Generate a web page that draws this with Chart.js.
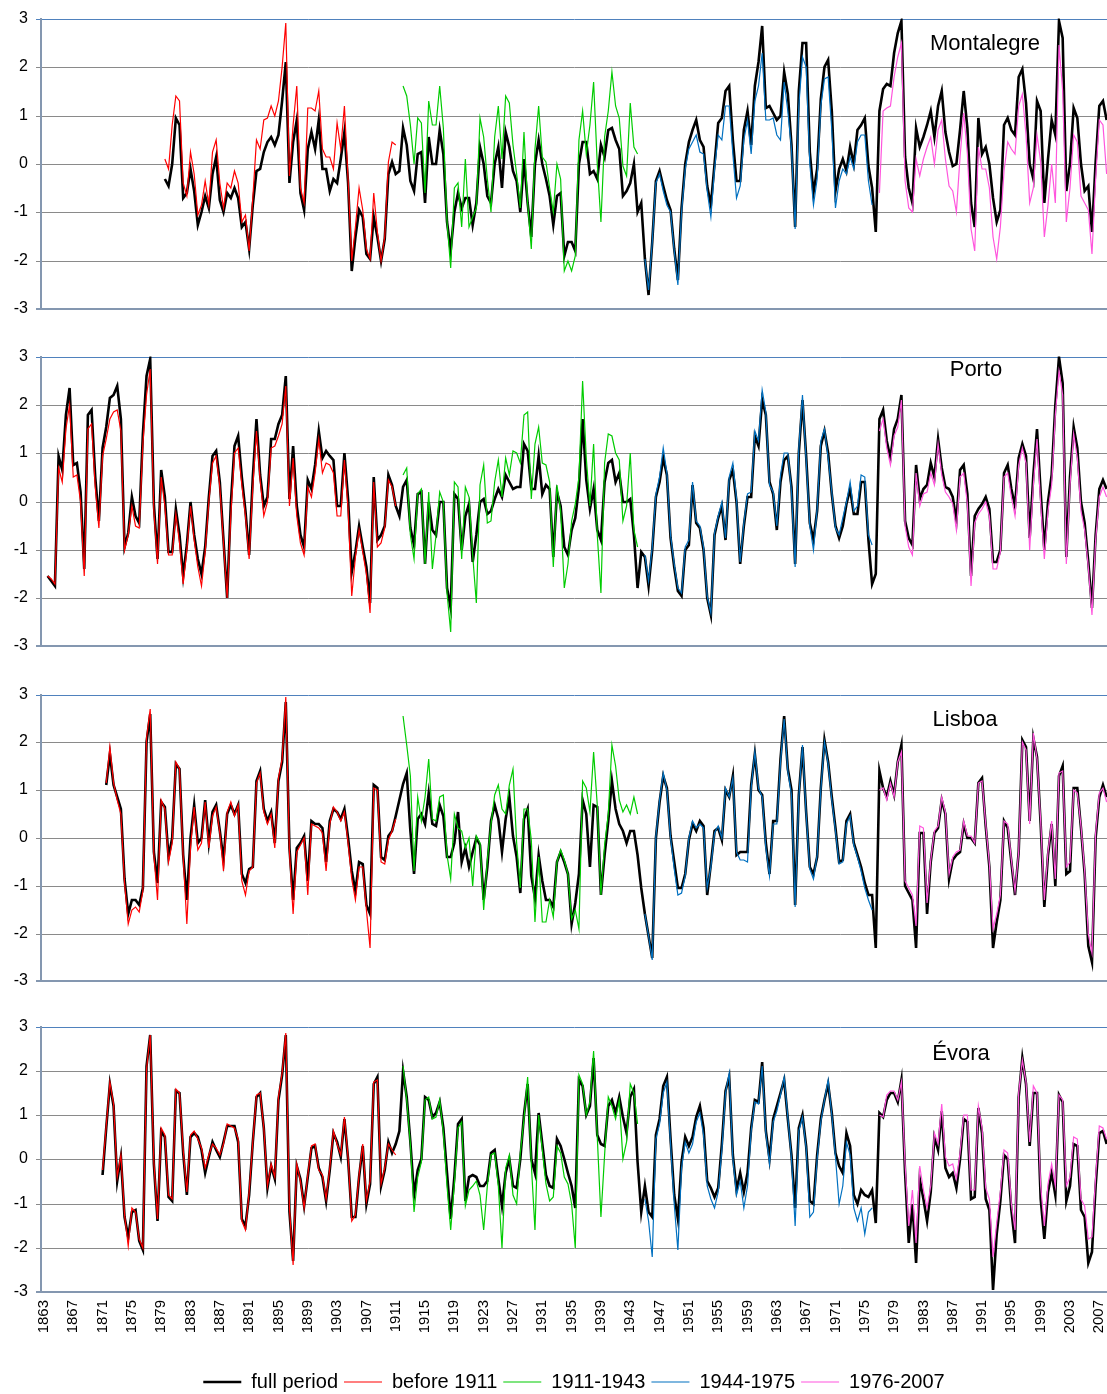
<!DOCTYPE html>
<html>
<head>
<meta charset="utf-8">
<title>SPI – Montalegre, Porto, Lisboa, Évora</title>
<script src="https://cdn.jsdelivr.net/npm/chart.js@4.4.0/dist/chart.umd.min.js"></script>
<style>
  html, body { margin: 0; padding: 0; background: #fff; overflow: hidden; width: 1107px; height: 1394px; position: relative; }
  canvas { position: absolute; left: 0; top: 0; }
</style>
</head>
<body>
<canvas id="c1" width="1107" height="330"></canvas>
<canvas id="c2" width="1107" height="330"></canvas>
<canvas id="c3" width="1107" height="330"></canvas>
<canvas id="c4" width="1107" height="400"></canvas>
<script>
const FONT = '"Liberation Sans", Arial, Helvetica, sans-serif';
const STEP = 0.5; // years between consecutive values of every series

const yearTicks = [1863, 1867, 1871, 1875, 1879, 1883, 1887, 1891, 1895, 1899, 1903, 1907,
  1911, 1915, 1919, 1923, 1927, 1931, 1935, 1939, 1943, 1947, 1951, 1955, 1959, 1963,
  1967, 1971, 1975, 1979, 1983, 1987, 1991, 1995, 1999, 2003, 2007];
const valueTicks = [-3, -2, -1, 0, 1, 2, 3];

const periodLabels = ['full period', 'before 1911', '1911-1943', '1944-1975', '1976-2007'];
const periodColors = ['#000000', '#ff0000', '#00cc00', '#0070c0', '#ff55dd'];

// ---------------- Montalegre ----------------
const montalegreStart = [1879.5, 1879.5, 1912, 1945, 1977];
const montalegreFull = [
  -0.3, -0.45, 0.0, 0.95, 0.8, -0.7, -0.6, -0.1, -0.55, -1.25,
  -1.0, -0.65, -0.9, -0.2, 0.15, -0.75, -1.0, -0.6, -0.7, -0.5,
  -0.7, -1.3, -1.2, -1.75, -0.85, -0.15, -0.1, 0.25, 0.45, 0.55,
  0.4, 0.6, 1.3, 2.1, -0.4, 0.45, 0.9, -0.6, -0.95, 0.3,
  0.65, 0.3, 0.9, -0.1, -0.1, -0.55, -0.3, -0.4, 0.1, 0.65,
  -0.4, -2.2, -1.5, -0.95, -1.1, -1.85, -1.95, -1.1, -1.5, -2.0,
  -1.55, -0.2, 0.05, -0.2,
  -0.15, 0.75, 0.4, -0.35, -0.55, 0.2, 0.25, -0.8, 0.55, 0.0,
  0.0, 0.7, 0.2, -1.2, -1.8, -1.0, -0.6, -0.9, -0.7, -0.7,
  -1.25, -0.8, 0.35, 0.0, -0.65, -0.8, 0.0, 0.35, -0.5, 0.65,
  0.35, -0.15, -0.35, -1.0, 0.1, -0.8, -1.5, 0.0, 0.5, 0.0,
  -0.3, -0.65, -1.25, -0.65, -0.6, -1.9, -1.6, -1.6, -1.8, 0.0,
  0.45, 0.45, -0.2, -0.15, -0.3, 0.4, 0.15, 0.7, 0.75, 0.5,
  0.3, -0.65, -0.55, -0.4, 0.0, -1.0, -0.8, -1.95, -2.7, -1.6,
  -0.35, -0.15, -0.45, -0.75, -0.95, -1.75, -2.4, -0.9, 0.0, 0.45,
  0.7, 0.9, 0.5, 0.35, -0.45, -0.85, 0.0, 0.85, 0.95, 1.5,
  1.6, 0.5, -0.35, -0.35, 0.7,
  1.1, 0.4, 1.6, 2.1, 2.85, 1.15, 1.2, 1.05, 0.9, 1.0,
  1.9, 1.45, 0.4, -1.3, 1.5, 2.5, 2.5, 0.25, -0.6, -0.1,
  1.35, 2.0, 2.15, 1.1, -0.55, -0.1, 0.1, -0.15, 0.35, 0.0,
  0.7, 0.8, 0.95, -0.05, -0.5, -1.4, 1.1, 1.55, 1.65, 1.6,
  2.3, 2.7, 2.95, 0.15, -0.5, -0.8, 0.75, 0.35, 0.55, 0.8,
  1.1, 0.55, 1.2, 1.5, 0.65, 0.25, -0.05, 0.0, 0.7, 1.5,
  0.75, -0.8, -1.3, 0.95, 0.2, 0.35, 0.0, -0.7, -1.2, -0.95,
  0.8, 0.95, 0.7, 0.6, 1.8, 1.95, 1.25, 0.0, -0.3, 1.3,
  1.1, -0.8, 0.1, 0.9, 0.6, 2.95, 2.6, -0.55, 0.0, 1.15,
  0.95, 0.0, -0.55, -0.45, -1.4, 0.05, 1.2, 1.3, 0.9
];
const montalegreBefore1911 = [
  0.1, -0.1, 0.8, 1.4, 1.3, -0.4, -0.65, 0.25, -0.2, -1.05,
  -0.85, -0.35, -0.85, 0.25, 0.5, -0.4, -0.9, -0.4, -0.5, -0.15,
  -0.4, -1.2, -1.05, -1.8, -0.7, 0.5, 0.3, 0.9, 0.95, 1.2,
  1.0, 1.3, 2.0, 2.9, -0.25, 0.8, 1.6, -0.5, -0.8, 1.15,
  1.15, 1.1, 1.5, 0.3, 0.15, 0.15, -0.1, 0.85, 0.3, 1.2,
  -0.3, -2.0, -1.3, -0.5, -0.95, -1.75, -1.95, -0.6, -1.4, -2.0,
  -1.5, 0.05, 0.45, 0.4
];
const montalegre1911 = [
  1.6, 1.4, 0.8, 0.0, 0.95, 0.85, -0.6, 1.3, 0.8, 0.8,
  1.6, 0.75, -1.2, -2.15, -0.5, -0.4, -1.3, 0.1, -1.3, -1.1,
  -0.9, 0.95, 0.55, -0.3, -1.0, 0.55, 1.2, 0.1, 1.4, 1.25,
  0.4, -0.2, -0.9, 0.65, -0.8, -1.75, 0.3, 1.2, 0.15, 0.05,
  -0.5, -1.0, 0.0, -0.3, -2.2, -2.0, -2.2, -1.9, 0.5, 1.1,
  0.2, 0.8, 1.7, 0.0, -1.2, 0.55, 1.1, 1.9, 1.2, 0.95,
  -0.05, -0.25, 1.25, 0.35, 0.2
];
const montalegre1944 = [
  -1.95, -2.6, -1.6, -0.4, -0.2, -0.55, -0.85, -1.0, -1.8, -2.5,
  -1.0, -0.1, 0.3, 0.45, 0.6, 0.25, 0.2, -0.55, -1.1, -0.1,
  0.6, 0.5, 1.2, 1.2, 0.2, -0.7, -0.45, 0.5,
  0.9, 0.2, 1.3, 1.6, 2.3, 0.9, 0.9, 0.95, 0.6, 0.5,
  1.7, 1.1, 0.3, -1.35, 1.2, 2.2, 2.0, 0.0, -0.85, -0.3,
  1.2, 1.75, 1.8, 0.7, -0.9, -0.35, -0.1, -0.2, 0.15, -0.1,
  0.45, 0.6, 0.6, -0.35, -0.85
];
const montalegre1976 = [
  -0.6, 1.1, 1.15, 1.2, 1.8, 2.2, 2.5, -0.35, -0.9, -1.0,
  0.1, -0.25, 0.1, 0.35, 0.55, 0.0, 0.7, 0.9, 0.1, -0.45,
  -0.55, -1.0, 0.15, 1.05, 0.2, -1.35, -1.8, 0.35, -0.1, -0.1,
  -0.5, -1.5, -1.95, -1.3, -0.15, 0.45, 0.3, 0.2, 1.2, 1.45,
  0.6, -0.8, -0.5, 0.6, 0.05, -1.5, -0.85, 0.0, -0.8, 2.45,
  1.5, -1.2, -0.5, 0.6, 0.45, -0.65, -0.8, -0.95, -1.85, -0.3,
  0.9, 0.8, -0.2
];

// ---------------- Porto ----------------
const portoStart = [1863.5, 1863.5, 1912, 1945, 1977];
const portoFull = [
  -1.55, -1.65, -1.75, 0.95, 0.65, 1.8, 2.35, 0.75, 0.8, 0.2,
  -1.4, 1.8, 1.9, 0.5, -0.4, 1.1, 1.55, 2.15, 2.2, 2.4,
  1.7, -0.95, -0.65, 0.1, -0.3, -0.45, 1.4, 2.6, 2.95, -0.05,
  -1.2, 0.65, 0.1, -1.05, -1.05, -0.15, -0.7, -1.55, -0.9, 0.0,
  -0.7, -1.2, -1.5, -0.95, 0.1, 0.95, 1.05, 0.4, -0.8, -2.0,
  -0.05, 1.15, 1.35, 0.5, -0.2, -1.1, 0.5, 1.7, 0.55, -0.1,
  0.1, 1.3, 1.3, 1.6, 1.8, 2.6, 0.05, 1.15, -0.1, -0.7,
  -0.95, 0.45, 0.25, 0.75, 1.45, 0.9, 1.05, 0.95, 0.85, -0.1,
  -0.1, 1.0, 0.05, -1.45, -1.05, -0.5, -0.95, -1.35, -2.1, 0.5,
  -0.8, -0.7, -0.5, 0.55, 0.35, -0.1,
  -0.3, 0.3, 0.45, -0.55, -0.9, 0.15, 0.2, -1.3, 0.0, -0.6,
  -0.7, 0.0, 0.0, -1.8, -2.2, 0.15, 0.05, -1.0, -0.3, -0.05,
  -1.25, -0.7, 0.0, 0.05, -0.25, -0.2, 0.05, 0.25, 0.1, 0.55,
  0.4, 0.25, 0.3, 0.3, 1.2, 1.05, 0.25, 0.25, 0.95, 0.15,
  0.35, 0.25, -1.15, 0.2, -0.1, -0.95, -1.1, -0.6, -0.35, 0.3,
  1.7, 0.45, -0.15, 0.25, -0.6, -0.8, 0.4, 0.8, 0.85, 0.4,
  0.6, 0.0, 0.0, 0.05, -0.7, -1.8, -1.05, -1.15, -1.75, -1.0,
  0.1, 0.4, 0.9, 0.55, -0.75, -1.35, -1.85, -1.95, -1.0, -0.9,
  0.35, -0.45, -0.55, -1.0, -2.0, -2.35, -0.7, -0.35, -0.1, -0.8,
  0.45, 0.65, 0.0, -1.3, -0.5,
  0.1, 0.1, 1.35, 1.15, 2.1, 1.8, 0.4, 0.15, -0.6, 0.4,
  0.85, 0.95, 0.3, -1.3, 1.0, 2.1, 0.95, -0.45, -0.8, -0.2,
  1.15, 1.45, 1.0, 0.15, -0.5, -0.75, -0.5, -0.05, 0.25, -0.25,
  -0.25, 0.4, 0.4, -0.8, -1.7, -1.5, 1.7, 1.9, 1.25, 0.9,
  1.5, 1.7, 2.2, -0.4, -0.75, -0.9, 0.75, 0.05, 0.25, 0.35,
  0.8, 0.5, 1.3, 0.7, 0.3, 0.25, 0.1, -0.4, 0.65, 0.75,
  0.15, -1.55, -0.3, -0.15, -0.05, 0.1, -0.15, -1.25, -1.25, -1.0,
  0.6, 0.75, 0.25, -0.1, 0.9, 1.2, 0.95, -0.75, 0.55, 1.5,
  0.2, -1.0, 0.0, 0.55, 2.0, 3.0, 2.45, -1.15, 0.5, 1.55,
  1.1, 0.0, -0.45, -1.25, -2.2, -0.7, 0.25, 0.45, 0.25
];
const portoBefore1911 = [
  -1.55, -1.6, -1.7, 0.7, 0.4, 1.5, 2.0, 0.5, 0.55, 0.0,
  -1.55, 1.5, 1.6, 0.3, -0.55, 0.95, 1.3, 1.7, 1.85, 1.9,
  1.45, -1.0, -0.7, -0.1, -0.5, -0.55, 1.2, 2.2, 2.75, -0.2,
  -1.3, 0.5, -0.1, -1.1, -1.1, -0.25, -0.85, -1.7, -1.0, -0.1,
  -0.8, -1.35, -1.75, -1.05, 0.0, 0.8, 0.95, 0.3, -0.85, -2.0,
  -0.3, 1.0, 1.1, 0.35, -0.3, -1.2, 0.3, 1.45, 0.45, -0.3,
  0.0, 1.1, 1.15, 1.35, 1.6, 2.4, -0.1, 0.9, -0.3, -0.85,
  -1.1, 0.3, 0.1, 0.6, 1.3, 0.6, 0.8, 0.75, 0.6, -0.3,
  -0.3, 0.85, -0.15, -1.95, -1.15, -0.6, -1.05, -1.5, -2.3, 0.4,
  -0.95, -0.85, -0.55, 0.45, 0.3, -0.1
];
const porto1911 = [
  0.55, 0.7, -0.7, -1.2, 0.15, 0.25, -1.3, 0.2, -1.4, -0.7,
  0.2, 0.0, -1.9, -2.7, 0.4, 0.3, -1.2, 0.3, 0.1, -1.1,
  -2.1, 0.35, 0.75, -0.45, -0.4, 0.4, 0.85, 0.1, 0.9, 0.55,
  1.05, 1.0, 0.8, 1.8, 1.85, 0.05, 1.2, 1.55, 0.8, 0.75,
  0.4, -1.35, 0.35, -0.2, -1.8, -1.3, -0.4, -0.05, 0.5, 2.5,
  0.9, -0.1, 1.2, -0.7, -1.9, 0.8, 1.4, 1.35, 1.0, 0.85,
  -0.4, -0.1, 1.0, -0.6, -0.95
];
const porto1944 = [
  -1.1, -1.65, -0.95, 0.15, 0.5, 1.1, 0.6, -0.7, -1.3, -1.8,
  -1.9, -0.95, -0.8, 0.4, -0.4, -0.5, -0.95, -1.95, -2.3, -0.65,
  -0.3, 0.0, -0.75, 0.5, 0.8, 0.05, -1.25, -0.45,
  0.15, 0.2, 1.45, 1.25, 2.3, 1.85, 0.35, 0.2, -0.5, 0.55,
  1.0, 1.0, 0.2, -1.35, 1.1, 2.2, 0.85, -0.5, -1.0, -0.15,
  1.25, 1.5, 0.9, 0.2, -0.55, -0.7, -0.35, 0.0, 0.4, -0.2,
  -0.1, 0.55, 0.5, -0.7, -0.9
];
const porto1976 = [
  1.45, 1.7, 1.1, 0.75, 1.35, 1.55, 2.1, -0.5, -0.95, -1.1,
  0.6, -0.1, 0.15, 0.2, 0.6, 0.35, 1.2, 0.55, 0.2, 0.1,
  -0.05, -0.6, 0.5, 0.6, -0.05, -1.75, -0.45, -0.25, -0.15, 0.0,
  -0.3, -1.4, -1.4, -1.05, 0.5, 0.6, 0.1, -0.3, 0.75, 1.1,
  0.8, -1.0, 0.35, 1.3, -0.05, -1.2, -0.2, 0.35, 1.8, 2.7,
  2.2, -1.3, 0.35, 1.4, 0.9, -0.2, -0.6, -1.35, -2.35, -0.8,
  0.1, 0.3, 0.1
];

// ---------------- Lisboa ----------------
const lisboaStart = [1871.5, 1871.5, 1912, 1945, 1977];
const lisboaFull = [
  1.1, 1.75, 1.1, 0.85, 0.6, -0.85, -1.6, -1.3, -1.3, -1.4,
  -1.05, 2.0, 2.6, -0.3, -0.95, 0.75, 0.65, -0.4, 0.0, 1.55,
  1.45, -0.35, -1.3, 0.0, 0.7, -0.1, 0.0, 0.8, -0.1, 0.55,
  0.7, 0.15, -0.45, 0.5, 0.7, 0.5, 0.7, -0.75, -0.95, -0.65,
  -0.6, 1.2, 1.4, 0.6, 0.35, 0.55, -0.1, 1.2, 1.6, 2.85,
  -0.2, -1.3, -0.2, -0.1, 0.05, -0.9, 0.35, 0.3, 0.3, 0.2,
  -0.5, 0.35, 0.6, 0.55, 0.4, 0.6, 0.0, -0.7, -1.1, -0.5,
  -0.55, -1.4, -1.6, 1.1, 1.05, -0.4, -0.45, 0.05, 0.15, 0.45,
  0.8, 1.12, 1.35, 0.15, -0.75, 0.4, 0.5, 0.3, 0.95, 0.3,
  0.25, 0.7, 0.45, -0.4, -0.4, -0.1, 0.55, -0.5, -0.2, -0.6,
  -0.3, 0.0, -0.15, -1.3, -0.6, 0.35, 0.7, 0.4, -0.3, 0.4,
  0.85, 0.05, -0.4, -1.15, 0.4, 0.6, -0.8, -1.25, -0.35, -0.9,
  -1.3, -1.3, -1.45, -0.5, -0.3, -0.5, -0.75, -1.8, -1.35, -0.75,
  0.8, 0.5, -0.6, 0.7, 0.65, -1.2, -0.35, 0.35, 1.2, 0.6,
  0.3, 0.15, -0.1, 0.15, 0.15, -0.35, -1.05, -1.6, -2.05, -2.5,
  0.0, 0.75, 1.3, 1.05, 0.05, -0.5, -1.05, -1.05, -0.75, -0.05,
  0.3, 0.15, 0.35, 0.25, -1.2, -0.55, 0.15, 0.2, -0.05, 1.0,
  0.85, 1.3, -0.35, -0.3, -0.3,
  -0.3, 1.1, 1.75, 1.0, 0.9, -0.1, -0.75, 0.35, 0.35, 1.65,
  2.55, 1.45, 1.0, -1.4, 0.9, 1.9, 0.55, -0.6, -0.75, -0.4,
  1.05, 2.05, 1.6, 0.85, 0.2, -0.5, -0.45, 0.35, 0.5, -0.1,
  -0.35, -0.6, -0.95, -1.2, -1.2, -2.3, 1.4, 1.05, 0.85, 1.2,
  0.9, 1.6, 1.95, -1.0, -1.15, -1.3, -2.3, 0.1, 0.1, -1.6,
  -0.5, 0.1, 0.2, 0.8, 0.5, -0.85, -0.45, -0.35, -0.3, 0.3,
  0.0, 0.0, -0.1, 1.15, 1.25, 0.25, -0.6, -2.3, -1.75, -1.3,
  0.35, 0.2, -0.5, -1.2, -0.3, 2.05, 1.9, 0.35, 2.1, 1.7,
  0.3, -1.45, -0.35, 0.3, -1.0, 1.3, 1.5, -0.75, -0.7, 1.05,
  1.05, 0.2, -0.75, -2.25, -2.6, 0.0, 0.85, 1.1, 0.85
];
const lisboaBefore1911 = [
  1.15, 1.9, 1.15, 0.8, 0.5, -0.95, -1.8, -1.5, -1.45, -1.55,
  -1.1, 2.1, 2.7, -0.35, -1.3, 0.8, 0.6, -0.5, -0.1, 1.6,
  1.45, -0.4, -1.8, -0.2, 0.65, -0.25, -0.1, 0.75, -0.2, 0.45,
  0.65, 0.1, -0.7, 0.55, 0.75, 0.45, 0.7, -0.9, -1.2, -0.7,
  -0.6, 1.15, 1.35, 0.55, 0.3, 0.5, -0.2, 1.25, 1.65, 2.95,
  -0.3, -1.6, -0.3, -0.15, 0.0, -1.2, 0.3, 0.25, 0.2, 0.1,
  -0.7, 0.3, 0.65, 0.55, 0.35, 0.55, -0.1, -0.85, -1.3, -0.6,
  -0.6, -1.5, -2.3, 1.05, 1.0, -0.5, -0.55, -0.05, 0.15, 0.4
];
const lisboa1911 = [
  2.55, 1.95, 1.3, -0.7, 0.85, 0.35, 0.85, 1.65, 0.4, 0.35,
  0.85, 0.9, -0.35, -0.85, 0.5, 0.2, 0.15, -0.2, 0.0, -1.0,
  0.05, -0.1, -1.5, -0.45, 0.3, 0.9, 1.1, 0.6, 0.5, 1.1,
  1.45, -0.1, -1.05, 0.6, 0.6, -0.05, -1.75, -0.4, -1.75, -1.75,
  -1.3, -1.65, -0.5, -0.25, -0.45, -0.75, -1.7, -1.5, -1.9, 1.2,
  1.05, 0.55, 1.8, 0.7, -1.2, -0.15, 0.5, 1.95, 1.5, 0.8,
  0.55, 0.7, 0.5, 0.85, 0.5
];
const lisboa1944 = [
  -1.6, -2.05, -2.55, 0.05, 0.8, 1.35, 1.0, 0.0, -0.65, -1.2,
  -1.15, -0.8, 0.0, 0.35, 0.2, 0.3, 0.2, -1.05, -0.6, 0.1,
  0.25, 0.0, 1.05, 0.85, 1.25, -0.3, -0.45, -0.45,
  -0.5, 1.05, 1.8, 1.05, 0.85, -0.2, -0.8, 0.3, 0.3, 1.6,
  2.5, 1.4, 0.9, -1.45, 0.85, 1.95, 0.5, -0.65, -0.85, -0.35,
  1.0, 2.0, 1.55, 0.8, 0.15, -0.55, -0.5, 0.3, 0.45, -0.15,
  -0.4, -0.7, -1.05, -1.3, -1.5
];
const lisboa1976 = [
  1.0, 1.05, 0.8, 1.15, 0.85, 1.6, 1.8, -0.9, -1.05, -1.2,
  -1.85, 0.25, 0.2, -1.35, -0.45, 0.15, 0.25, 0.85, 0.55, -0.75,
  -0.4, -0.3, -0.25, 0.35, 0.05, 0.05, -0.1, 1.15, 1.2, 0.3,
  -0.55, -1.9, -1.6, -1.2, 0.35, 0.3, -0.45, -1.1, -0.3, 2.0,
  1.85, 0.3, 2.2, 1.65, 0.35, -1.3, -0.3, 0.35, -0.85, 1.35,
  1.4, -0.6, -0.5, 1.0, 0.95, 0.25, -0.7, -2.0, -2.4, 0.1,
  0.95, 1.05, 0.75
];

// ---------------- Évora ----------------
const evoraStart = [1871, 1871, 1912, 1945, 1977];
const evoraFull = [
  -0.35, 0.7, 1.7, 1.2, -0.5, 0.05, -1.3, -1.75, -1.2, -1.15,
  -1.85, -2.05, 2.1, 2.8, -0.1, -1.4, 0.65, 0.5, -0.85, -0.95,
  1.55, 1.5, 0.15, -0.8, 0.5, 0.6, 0.5, 0.2, -0.3, 0.05,
  0.4, 0.2, 0.05, 0.4, 0.75, 0.75, 0.75, 0.4, -1.35, -1.5,
  -0.8, 0.4, 1.4, 1.5, 0.7, -0.65, -0.15, -0.45, 1.35, 1.9,
  2.8, -1.2, -2.3, -0.15, -0.45, -1.05, -0.4, 0.25, 0.3, -0.2,
  -0.4, -0.95, -0.25, 0.6, 0.4, 0.05, 0.9, 0.0, -1.3, -1.3,
  -0.4, 0.3, -1.0, -0.55, 1.7, 1.85, -0.6, -0.25, 0.4, 0.15,
  0.35,
  0.65, 2.0, 1.4, 0.4, -0.8, -0.25, 0.0, 1.4, 1.35, 0.95,
  1.05, 1.3, 0.7, -0.3, -1.35, -0.4, 0.8, 0.9, -0.95, -0.4,
  -0.35, -0.4, -0.6, -0.6, -0.5, 0.15, 0.2, -0.45, -1.05, -0.3,
  0.0, -0.6, -0.65, 0.0, 1.0, 1.7, 0.0, -0.3, 1.05, 0.35,
  -0.35, -0.6, -0.65, 0.45, 0.3, 0.0, -0.3, -0.6, -1.1, 1.8,
  1.65, 1.0, 1.2, 2.3, 0.55, 0.35, 0.3, 1.2, 1.35, 1.05,
  1.4, 0.95, 0.6, 1.4, 1.6, -0.05, -1.2, -0.6, -1.2, -1.3,
  0.55, 0.9, 1.65, 1.85, 0.45, -0.8, -1.35, -0.05, 0.5, 0.3,
  0.5, 0.95, 1.2, 0.7, -0.5, -0.65, -0.85, -0.65, 0.35, 1.55,
  1.85, 0.1, -0.7, -0.3, -0.75,
  -0.3, 0.7, 1.35, 1.3, 2.2, 0.65, 0.0, 0.9, 1.2, 1.5,
  1.8, 0.9, 0.1, -1.1, 0.7, 1.0, 0.3, -0.95, -1.0, 0.1,
  0.9, 1.35, 1.7, 1.05, 0.15, -0.15, -0.3, 0.6, 0.3, -0.8,
  -1.0, -0.7, -0.8, -0.85, -0.7, -1.45, 1.05, 0.95, 1.35, 1.5,
  1.5, 1.3, 1.8, -0.3, -1.9, -1.0, -2.35, -0.45, -0.9, -1.4,
  -0.75, 0.5, 0.2, 1.1, -0.2, -0.4, -0.3, -0.65, 0.0, 0.9,
  0.85, -0.9, -0.85, 1.15, 0.6, -0.9, -1.15, -2.95, -1.7, -0.95,
  0.1, 0.0, -1.15, -1.9, 1.4, 2.3, 1.7, 0.3, 1.5, 1.5,
  -0.9, -1.8, -0.75, -0.3, -0.8, 1.45, 1.3, -0.95, -0.6, 0.35,
  0.3, -1.15, -1.3, -2.35, -2.1, -0.6, 0.6, 0.65, 0.35
];
const evoraBefore1911 = [
  -0.25, 0.75, 1.75, 1.25, -0.4, 0.1, -1.25, -1.95, -1.1, -1.2,
  -1.8, -2.0, 2.05, 2.8, -0.05, -1.35, 0.7, 0.55, -0.8, -0.9,
  1.6, 1.5, 0.2, -0.75, 0.55, 0.65, 0.45, 0.25, -0.2, 0.1,
  0.35, 0.25, 0.1, 0.35, 0.8, 0.75, 0.7, 0.45, -1.4, -1.6,
  -0.75, 0.4, 1.45, 1.5, 0.7, -0.6, -0.1, -0.4, 1.4, 1.95,
  2.85, -1.1, -2.4, -0.1, -0.5, -1.1, -0.35, 0.3, 0.35, -0.25,
  -0.35, -0.9, -0.2, 0.65, 0.35, 0.1, 0.95, 0.05, -1.4, -1.25,
  -0.35, 0.35, -0.95, -0.5, 1.75, 1.8, -0.55, -0.2, 0.35, 0.2,
  0.1
];
const evora1911 = [
  2.1, 1.35, 0.35, -1.2, -0.4, -0.05, 1.35, 1.4, 0.9, 0.95,
  1.35, 0.6, -0.6, -1.6, -0.55, 0.7, 0.85, -1.05, -0.7, -0.6,
  -0.5, -0.8, -1.6, -0.6, 0.1, 0.15, -0.6, -2.0, -0.2, 0.1,
  -0.8, -1.0, 0.15, 0.9, 1.85, -0.1, -1.6, 1.0, 0.2, -0.55,
  -0.95, -0.85, 0.3, 0.15, -0.4, -0.55, -1.0, -2.0, 1.9, 1.7,
  1.0, 1.3, 2.45, 0.5, -1.3, 0.1, 1.4, 1.2, 0.9, 1.35,
  0.0, 0.4, 1.7, 1.5, 0.8
];
const evora1944 = [
  -0.9, -1.4, -2.2, 0.45, 0.8, 1.5, 1.75, 0.35, -1.0, -2.05,
  -0.2, 0.4, 0.15, 0.35, 0.85, 1.05, 0.55, -0.6, -0.9, -1.1,
  -0.75, 0.2, 1.5, 1.95, 0.0, -0.8, -0.5, -1.1,
  -0.6, 0.65, 1.3, 1.25, 2.1, 0.6, -0.1, 0.85, 1.1, 1.45,
  1.85, 0.95, 0.0, -1.5, 0.65, 0.95, 0.25, -1.3, -1.2, 0.0,
  0.85, 1.35, 1.8, 1.0, 0.05, -1.0, -0.6, 0.4, 0.1, -1.1,
  -1.4, -1.1, -1.7, -1.2, -1.1
];
const evora1976 = [
  1.0, 0.95, 1.45, 1.55, 1.55, 1.35, 1.75, -0.1, -1.5, -0.7,
  -1.9, -0.15, -0.7, -1.1, -0.6, 0.6, 0.35, 1.25, 0.05, -0.15,
  -0.1, -0.45, 0.15, 1.0, 1.0, -0.7, -0.7, 1.2, 0.7, -0.65,
  -0.9, -2.2, -1.45, -0.75, 0.2, 0.15, -1.0, -1.6, 1.5, 2.25,
  1.75, 0.4, 1.65, 1.5, -0.6, -1.5, -0.55, -0.1, -0.6, 1.45,
  1.35, -0.6, -0.4, 0.5, 0.45, -0.9, -1.05, -1.8, -1.75, -0.4,
  0.75, 0.7, 0.45
];

// Station name written inside the upper right of each plot area
const stationLabel = {
  id: 'stationLabel',
  afterDraw(chart, args, opts) {
    const { ctx, chartArea } = chart;
    ctx.save();
    ctx.font = '22px ' + FONT;
    ctx.fillStyle = '#000';
    ctx.textAlign = 'center';
    ctx.textBaseline = 'middle';
    ctx.fillText(opts.text, opts.x, chartArea.top + opts.dy);
    ctx.restore();
  }
};

function track(start, values) {
  return values.map((v, i) => ({ x: start + i * STEP, y: v }));
}

function makePanel(id, starts, seriesList, label, withAxis) {
  const datasets = seriesList.map((vals, k) => ({
    label: periodLabels[k],
    data: track(starts[k], vals),
    borderColor: periodColors[k],
    backgroundColor: periodColors[k],
    borderWidth: k === 0 ? 2.6 : 1.2,
    pointRadius: 0,
    pointHoverRadius: 0,
    tension: 0,
    fill: false,
    order: k === 0 ? 1 : 0
  }));

  return new Chart(document.getElementById(id), {
    type: 'line',
    data: { datasets },
    plugins: [stationLabel],
    options: {
      responsive: false,
      maintainAspectRatio: false,
      animation: false,
      devicePixelRatio: 1,
      events: [],
      layout: { autoPadding: false, padding: { top: 10, bottom: withAxis ? 0 : 10, left: 0, right: 0 } },
      scales: {
        x: {
          type: 'linear',
          min: 1862.6,
          max: 2008.05,
          display: withAxis,
          afterBuildTicks: (s) => { s.ticks = yearTicks.map((v) => ({ value: v })); },
          afterFit: (s) => {
            s.paddingLeft = 0;
            s.paddingRight = 0;
            if (withAxis) s.height = 74;
          },
          grid: { display: false, drawTicks: false },
          border: { display: false },
          ticks: {
            autoSkip: false, maxRotation: 90, minRotation: 90, padding: 8,
            color: '#000', font: { family: FONT, size: 15 },
            callback: (v) => String(v)
          }
        },
        y: {
          min: -3,
          max: 3,
          alignToPixels: true,
          afterBuildTicks: (s) => { s.ticks = valueTicks.map((v) => ({ value: v })); },
          afterFit: (s) => { s.width = 41; },
          grid: {
            drawTicks: true,
            tickLength: 5,
            color: (c) => c.tick && c.tick.value === 3 ? '#4f81bd' : (c.tick && c.tick.value === -3 ? '#8497b0' : '#8a8a8a'),
            lineWidth: (c) => c.tick && c.tick.value === -3 ? 2 : 1
          },
          border: { display: true, color: '#8497b0', width: 2 },
          ticks: { padding: 8, color: '#000', font: { family: FONT, size: 16 } }
        }
      },
      plugins: {
        tooltip: { enabled: false },
        stationLabel: label,
        legend: {
          display: withAxis,
          position: 'bottom',
          fullSize: false,
          labels: {
            usePointStyle: true,
            pointStyle: 'line',
            pointStyleWidth: 38,
            padding: 6,
            color: '#000',
            font: { family: FONT, size: 20 },
            sort: (a, b) => a.datasetIndex - b.datasetIndex
          }
        }
      }
    }
  });
}

// Size each canvas so that its plot area spans [plotTop, plotBottom] on the page
function placePanel(chart, plotTop, plotBottom) {
  const above = chart.chartArea.top;
  const below = chart.height - chart.chartArea.bottom;
  chart.resize(1107, Math.round(above + (plotBottom - plotTop) + below));
  chart.canvas.style.top = (plotTop - chart.chartArea.top) + 'px';
}

const panels = [
  ['c1', montalegreStart, [montalegreFull, montalegreBefore1911, montalegre1911, montalegre1944, montalegre1976],
    { text: 'Montalegre', x: 985, dy: 25 }, false, 19, 310],
  ['c2', portoStart, [portoFull, portoBefore1911, porto1911, porto1944, porto1976],
    { text: 'Porto', x: 976, dy: 13 }, false, 357, 647],
  ['c3', lisboaStart, [lisboaFull, lisboaBefore1911, lisboa1911, lisboa1944, lisboa1976],
    { text: 'Lisboa', x: 965, dy: 25 }, false, 695, 982],
  ['c4', evoraStart, [evoraFull, evoraBefore1911, evora1911, evora1944, evora1976],
    { text: 'Évora', x: 961, dy: 27 }, true, 1027, 1292]
];

panels.forEach(([id, starts, series, label, withAxis, top, bottom]) => {
  const chart = makePanel(id, starts, series, label, withAxis);
  placePanel(chart, top, bottom);
});
</script>
</body>
</html>
